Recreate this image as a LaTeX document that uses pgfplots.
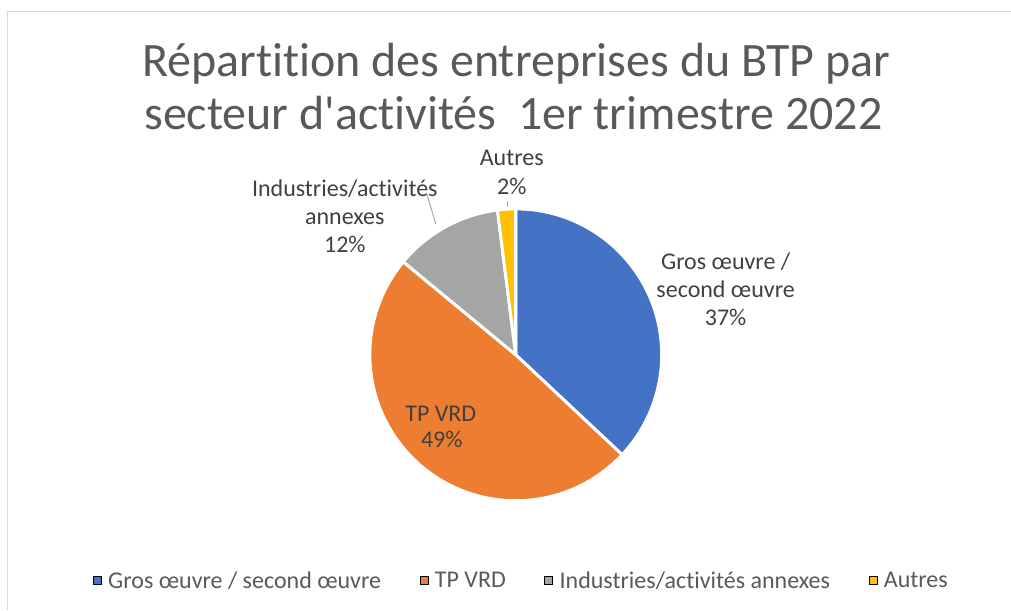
\documentclass[border=0pt]{standalone}
\usepackage{pgfplots}
\usepackage{pgfplotstable}
\pgfplotsset{compat=1.18}
\usepackage{fontspec}
\setmainfont{Carlito}[Ligatures={TeXOff,CommonOff}]
\definecolor{cblue}{RGB}{68,114,196}
\definecolor{corange}{RGB}{237,125,49}
\definecolor{cgray}{RGB}{165,165,165}
\definecolor{cgold}{RGB}{255,192,0}
\definecolor{ctitle}{RGB}{89,89,89}
\definecolor{clabel}{RGB}{64,64,64}
\definecolor{cborder}{RGB}{217,217,217}
\definecolor{cleader}{RGB}{166,166,166}

\pgfplotstableread{
label value
Gros 37
TPVRD 49
Industries 12
Autres 2
}\piedata

\newcommand\titlefont{\fontsize{36}{44}\selectfont}
\newcommand\lblfont{\fontsize{18}{22}\selectfont}

\begin{document}
\begin{tikzpicture}
\pgfplotstablegetelem{0}{value}\of\piedata\pgfmathsetmacro\vA{\pgfplotsretval}
\pgfplotstablegetelem{1}{value}\of\piedata\pgfmathsetmacro\vB{\pgfplotsretval}
\pgfplotstablegetelem{2}{value}\of\piedata\pgfmathsetmacro\vC{\pgfplotsretval}
\pgfplotstablegetelem{3}{value}\of\piedata\pgfmathsetmacro\vD{\pgfplotsretval}
\pgfmathsetmacro\tot{\vA+\vB+\vC+\vD}
\pgfmathsetmacro\sA{90}
\pgfmathsetmacro\sB{\sA-360*(\vA/\tot)}
\pgfmathsetmacro\sC{\sB-360*(\vB/\tot)}
\pgfmathsetmacro\sD{\sC-360*(\vC/\tot)}
\pgfmathsetmacro\sE{\sD-360*(\vD/\tot)}
\def\R{109.5pt}
\begin{axis}[
  scale only axis, width=758.25pt, height=457.5pt,
  xmin=0, xmax=1011, ymin=0, ymax=610,
  hide axis, clip=false,
  legend columns=-1,
  legend image code/.code={\fill[#1] (0pt,-3pt) rectangle (6pt,3pt); \path (9pt,0pt);},
  legend style={draw=none, fill=none, at={(axis cs:522,29)}, anchor=center,
    font=\lblfont, text=ctitle,
    /tikz/every even column/.append style={column sep=27pt}},
]
\path (axis cs:0,0) rectangle (axis cs:1011,610);
\draw[cborder, line width=0.75pt] (axis cs:8,0) -- (axis cs:8,598) -- (axis cs:1011,598);

\addlegendimage{fill=cblue}\addlegendentry{Gros œuvre / second œuvre}
\addlegendimage{fill=corange}\addlegendentry{TP VRD}
\addlegendimage{fill=cgray}\addlegendentry{Industries/activités annexes}
\addlegendimage{fill=cgold}\addlegendentry{Autres}

\filldraw[fill=cblue, draw=white, line width=2.25pt, line join=round] (axis cs:516,255) -- +(\sA:\R) arc[start angle=\sA, end angle=\sB, radius=\R] -- cycle;
\filldraw[fill=corange, draw=white, line width=2.25pt, line join=round] (axis cs:516,255) -- +(\sB:\R) arc[start angle=\sB, end angle=\sC, radius=\R] -- cycle;
\filldraw[fill=cgray, draw=white, line width=2.25pt, line join=round] (axis cs:516,255) -- +(\sC:\R) arc[start angle=\sC, end angle=\sD, radius=\R] -- cycle;
\filldraw[fill=cgold, draw=white, line width=2.25pt, line join=round] (axis cs:516,255) -- +(\sD:\R) arc[start angle=\sD, end angle=\sE, radius=\R] -- cycle;

\draw[cleader, line width=0.75pt] (axis cs:436,386) -- (axis cs:427,416);
\draw[cleader, line width=0.75pt] (axis cs:508,403) -- (axis cs:508,409);

\node[anchor=base, inner sep=0, font=\titlefont, text=ctitle] at (axis cs:516.5,533) {Répartition des entreprises du BTP par};
\node[anchor=base, inner sep=0, font=\titlefont, text=ctitle] at (axis cs:513.5,480) {secteur d'activités\ \ 1er trimestre 2022};

\node[anchor=base, inner sep=0, font=\lblfont, text=clabel] at (axis cs:726,340) {Gros œuvre /};
\node[anchor=base, inner sep=0, font=\lblfont, text=clabel] at (axis cs:726,312) {second œuvre};
\node[anchor=base, inner sep=0, font=\lblfont, text=clabel] at (axis cs:726,284) {37\%};

\node[anchor=base, inner sep=0, font=\lblfont, text=clabel] at (axis cs:441,188) {TP VRD};
\node[anchor=base, inner sep=0, font=\lblfont, text=clabel] at (axis cs:442,162) {49\%};

\node[anchor=base, inner sep=0, font=\lblfont, text=clabel] at (axis cs:345,413) {Industries/activités};
\node[anchor=base, inner sep=0, font=\lblfont, text=clabel] at (axis cs:345,385) {annexes};
\node[anchor=base, inner sep=0, font=\lblfont, text=clabel] at (axis cs:345,357) {12\%};

\node[anchor=base, inner sep=0, font=\lblfont, text=clabel] at (axis cs:512,444) {Autres};
\node[anchor=base, inner sep=0, font=\lblfont, text=clabel] at (axis cs:512,415) {2\%};
\end{axis}
\end{tikzpicture}
\end{document}
